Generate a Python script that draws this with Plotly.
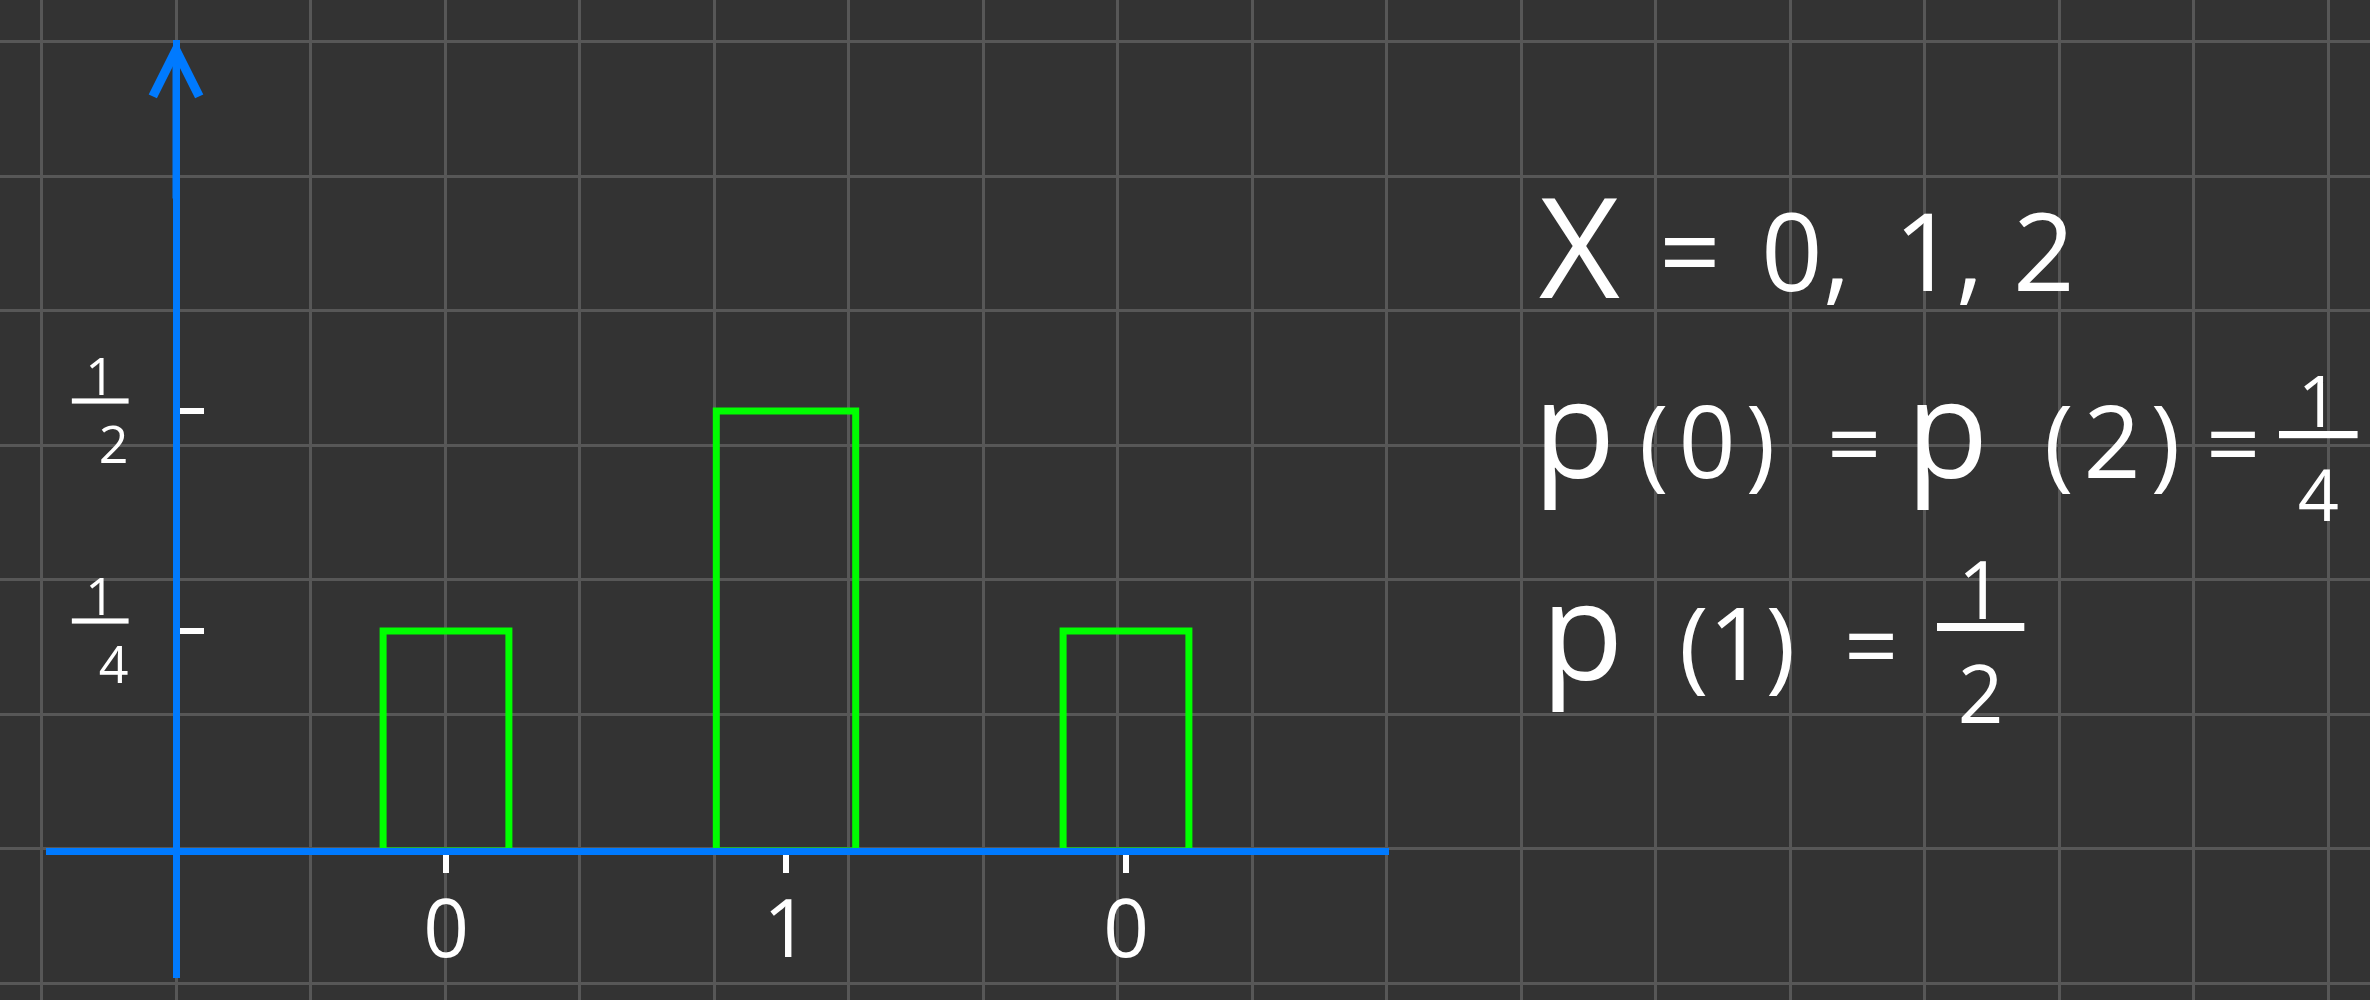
import plotly.graph_objects as go

# ---------------- data (read from the board) ----------------
X_VALUES = [0, 1, 2]
X_TICK_TEXT = ["0", "1", "0"]          # labels exactly as written under the ticks
P_VALUES = [0.25, 0.5, 0.25]           # p(0), p(1), p(2)
Y_TICK_VALUES = [0.25, 0.5]
Y_TICK_NUM = ["1", "1"]
Y_TICK_DEN = ["4", "2"]

LINE1_TOKENS = ["X", "=", "0,", "1,", "2"]
LINE2_TOKENS = ["p", "(0)", "=", "p", "(2)", "="]
LINE2_FRACTION = ["1", "4"]
LINE3_TOKENS = ["p", "(1)", "="]
LINE3_FRACTION = ["1", "2"]

# ---------------- styles / layout constants ----------------
W, H = 2370, 1000
BG = "#333333"
GRID = "#575757"
BLUE = "#007AFF"
GREEN = "#00FF00"
WHITE = "#FFFFFF"
FONT = "Open Sans"

GRID0, GRID_STEP = 41.5, 134.5

X_AX_LEFT, X_AX_RIGHT = 46, 1389        # extent of the horizontal axis (px)
Y_AX_TOP, Y_AX_BOTTOM = 40, 978         # extent of the vertical axis (px)
Y_AX_X = 176                            # x position of vertical axis (px)
ZERO_Y = 851                            # y pixel of value 0
X0_PX, PX_PER_X = 446, 340
PX_PER_Y = 880
BAR_WIDTHS = [0.37, 0.41, 0.37]

x2_range = [-(X0_PX - X_AX_LEFT) / PX_PER_X, (X_AX_RIGHT - X0_PX) / PX_PER_X]
y2_range = [-(Y_AX_BOTTOM - ZERO_Y) / PX_PER_Y, (ZERO_Y - Y_AX_TOP) / PX_PER_Y]

fig = go.Figure()

# background grid subplot (no data, only carries the squared-paper grid)
fig.add_trace(go.Scatter(x=[], y=[], xaxis="x", yaxis="y", mode="lines",
                         hoverinfo="skip", showlegend=False))

fig.add_trace(go.Bar(
    x=X_VALUES, y=P_VALUES, width=BAR_WIDTHS,
    marker=dict(color="rgba(0,0,0,0)", line=dict(color=GREEN, width=7)),
    xaxis="x2", yaxis="y2", hoverinfo="skip", showlegend=False,
))

y_tick_text = [f"<u>\u00a0{n}\u00a0</u><br>{d}" for n, d in zip(Y_TICK_NUM, Y_TICK_DEN)]

fig.update_layout(
    width=W, height=H,
    margin=dict(l=0, r=0, t=0, b=0),
    paper_bgcolor=BG, plot_bgcolor="rgba(0,0,0,0)",
    showlegend=False, hovermode=False,
    xaxis=dict(domain=[0, 1], range=[0, W], tickmode="linear", tick0=GRID0, dtick=GRID_STEP,
               showgrid=True, gridcolor=GRID, gridwidth=3, zeroline=False, anchor="y",
               showticklabels=False, ticks="", showline=False, fixedrange=True),
    yaxis=dict(domain=[0, 1], range=[H, 0], tickmode="linear", tick0=GRID0, dtick=GRID_STEP,
               showgrid=True, gridcolor=GRID, gridwidth=3, zeroline=False, anchor="x",
               showticklabels=False, ticks="", showline=False, fixedrange=True),
    xaxis2=dict(domain=[X_AX_LEFT / W, X_AX_RIGHT / W], range=x2_range,
                anchor="free", position=1 - ZERO_Y / H,
                showgrid=False, zeroline=False,
                showline=True, linecolor=BLUE, linewidth=7,
                tickmode="array", tickvals=X_VALUES, ticktext=X_TICK_TEXT,
                ticks="outside", ticklen=18, tickwidth=6, tickcolor=WHITE,
                ticklabelstandoff=-12,
                tickfont=dict(family=FONT, size=80, color=WHITE), fixedrange=True),
    yaxis2=dict(domain=[1 - Y_AX_BOTTOM / H, 1 - Y_AX_TOP / H], range=y2_range,
                anchor="free", position=Y_AX_X / W,
                showgrid=False, zeroline=False,
                showline=True, linecolor=BLUE, linewidth=7,
                tickmode="array", tickvals=Y_TICK_VALUES, ticktext=y_tick_text,
                ticks="inside", ticklen=24, tickwidth=6, tickcolor=WHITE,
                ticklabelstandoff=34,
                tickfont=dict(family=FONT, size=52, color=WHITE), fixedrange=True),
)

# arrow head on the vertical axis
fig.add_annotation(x=Y_AX_X / W, y=1 - Y_AX_TOP / H, xref="paper", yref="paper",
                   text="", showarrow=True, ax=0, ay=160, arrowhead=5,
                   arrowsize=1.3, arrowwidth=7, arrowcolor=BLUE, standoff=0)


def add_text(text, x_px, baseline_px, size, anchor="left"):
    center = baseline_px - 0.388 * size
    fig.add_annotation(text=text, x=x_px / W, y=1 - center / H, xref="paper", yref="paper",
                       xanchor=anchor, yanchor="middle", showarrow=False, borderpad=0,
                       font=dict(family=FONT, size=size, color=WHITE))


def add_fraction(num, den, x_px, bar_y_px, size):
    fig.add_annotation(text=f"<u>\u00a0{num}\u00a0</u><br>{den}", x=x_px / W,
                       y=1 - bar_y_px / H, xref="paper", yref="paper",
                       xanchor="center", yanchor="middle", showarrow=False, borderpad=0,
                       align="center", font=dict(family=FONT, size=size, color=WHITE))


# line 1:  X = 0, 1, 2
line1_pos = [(1538, 298, 140), (1658, 291, 108), (1760, 291, 108), (1893, 291, 108), (2012, 291, 108)]
for tok, (xp, bp, sz) in zip(LINE1_TOKENS, line1_pos):
    add_text(tok, xp, bp, sz)

# line 2:  p(0) = p(2) = 1/4
line2_pos = [(1532, 478, 135), (1638, 478, 100), (1826, 478, 95),
             (1905, 478, 135), (2043, 478, 100), (2205, 478, 95)]
for tok, (xp, bp, sz) in zip(LINE2_TOKENS, line2_pos):
    add_text(tok.replace("(", "(\u200a").replace(")", "\u200a)"), xp, bp, sz)
add_fraction(LINE2_FRACTION[0], LINE2_FRACTION[1], 2318, 446, 72)

# line 3:  p(1) = 1/2
line3_pos = [(1540, 680, 135), (1678, 680, 100), (1843, 680, 95)]
for tok, (xp, bp, sz) in zip(LINE3_TOKENS, line3_pos):
    add_text(tok, xp, bp, sz)
add_fraction(LINE3_FRACTION[0], LINE3_FRACTION[1], 1980, 639, 80)

fig.write_html("out.html",
               config={"displayModeBar": False},
               post_script="document.body.style.margin='0px';"
                           "document.body.style.overflow='hidden';")
